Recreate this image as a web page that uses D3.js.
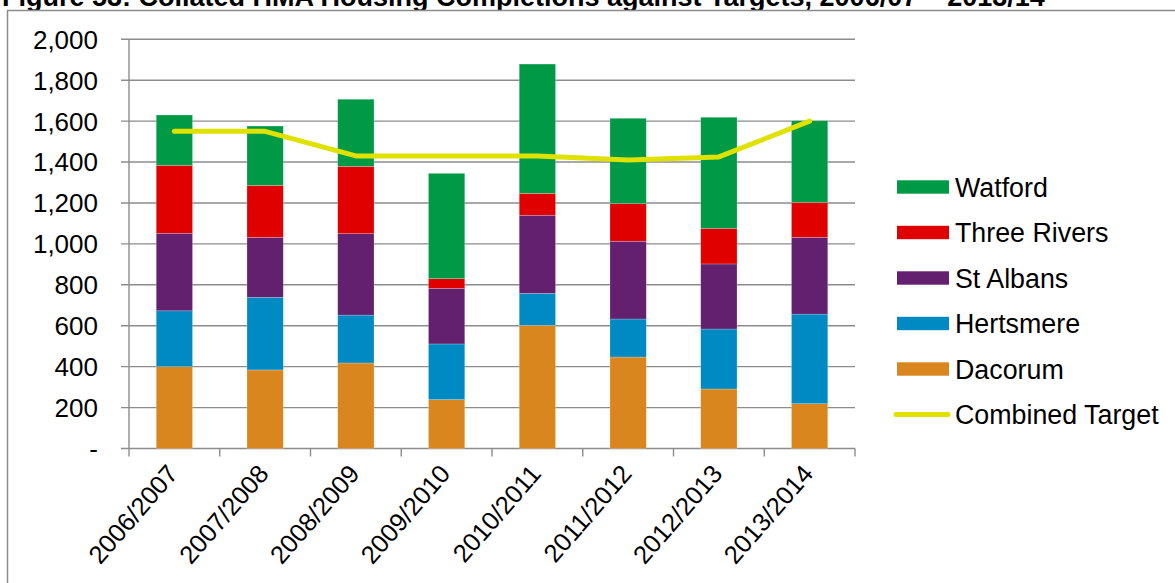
<!DOCTYPE html>
<html>
<head>
<meta charset="utf-8">
<script src="https://cdn.jsdelivr.net/npm/d3@7"></script>
<style>
  html, body { margin: 0; padding: 0; background: #fff; }
  svg { display: block; }
  text { font-family: "Liberation Sans", Arial, sans-serif; }
</style>
</head>
<body>
<svg id="chart" width="1175" height="583"></svg>
<script>
const categories = ["2006/2007","2007/2008","2008/2009","2009/2010","2010/2011","2011/2012","2012/2013","2013/2014"];
const dacorum     = [400, 384, 418, 239, 602, 447, 291, 219];
const hertsmere   = [273, 355, 234, 272, 156, 186, 293, 438];
const stAlbans    = [379, 293, 398, 272, 382, 380, 318, 375];
const threeRivers = [332, 254, 329,  47, 107, 184, 174, 171];
const watford     = [246, 290, 328, 515, 632, 417, 543, 399];
const combinedTarget = [1550, 1550, 1430, 1430, 1430, 1410, 1425, 1600];
const yTicks = [0, 200, 400, 600, 800, 1000, 1200, 1400, 1600, 1800, 2000];
const seriesNames = ["Dacorum", "Hertsmere", "St Albans", "Three Rivers", "Watford"];
const seriesColors = ["#d9861e", "#008ac4", "#62206e", "#e10000", "#009a46"];
const targetName = "Combined Target";
const targetColor = "#dfe100";
const titleText = "Figure 53: Collated HMA Housing Completions against Targets, 2006/07 \u2013 2013/14";

const seriesValues = [dacorum, hertsmere, stAlbans, threeRivers, watford];
const rows = categories.map((c, i) => {
  const r = { category: c };
  seriesNames.forEach((n, k) => r[n] = seriesValues[k][i]);
  return r;
});

const svg = d3.select("#chart");
const gridColor = "#8c8c8c";

// title (partly hidden behind the chart frame, as in the source)
svg.append("text")
  .attr("x", 2).attr("y", 6)
  .attr("font-size", 27).attr("font-weight", "bold")
  .text(titleText);

// chart frame
svg.append("rect")
  .attr("x", 7.5).attr("y", 10.5)
  .attr("width", 1200).attr("height", 600)
  .attr("fill", "#fff").attr("stroke", gridColor).attr("stroke-width", 1.5);

const plotLeft = 129, plotRight = 855, plotTop = 39.3, plotBottom = 448.5;

const x = d3.scaleBand().domain(categories).range([plotLeft, plotRight])
  .paddingInner(0.6).paddingOuter(0.3);
const xBoundary = d3.scaleBand().domain(categories).range([plotLeft, plotRight]).padding(0);
const y = d3.scaleLinear().domain([0, 2000]).range([plotBottom, plotTop]);

// gridlines
svg.append("g").selectAll("line").data(yTicks).join("line")
  .attr("x1", plotLeft - 8).attr("x2", plotRight)
  .attr("y1", d => y(d)).attr("y2", d => y(d))
  .attr("stroke", gridColor).attr("stroke-width", 1.4);

// y tick labels
svg.append("g").selectAll("text").data(yTicks).join("text")
  .attr("x", 98).attr("y", d => y(d))
  .attr("dy", "0.36em")
  .attr("text-anchor", "end")
  .attr("font-size", 26)
  .text(d => d === 0 ? "-" : d3.format(",")(d));

// y axis line
svg.append("line")
  .attr("x1", plotLeft).attr("x2", plotLeft)
  .attr("y1", plotTop).attr("y2", plotBottom + 8)
  .attr("stroke", gridColor).attr("stroke-width", 1.4);

// x category tick marks
const boundaries = categories.map(c => xBoundary(c) + xBoundary.bandwidth());
svg.append("g").selectAll("line").data(boundaries).join("line")
  .attr("x1", d => d).attr("x2", d => d)
  .attr("y1", plotBottom).attr("y2", plotBottom + 8)
  .attr("stroke", gridColor).attr("stroke-width", 1.4);

// stacked bars
const stack = d3.stack().keys(seriesNames)(rows);
svg.append("g").selectAll("g").data(stack).join("g")
  .attr("fill", (d, i) => seriesColors[i])
  .selectAll("rect").data(d => d).join("rect")
  .attr("x", d => x(d.data.category))
  .attr("width", x.bandwidth())
  .attr("y", d => y(d[1]))
  .attr("height", d => y(d[0]) - y(d[1]))
  .attr("stroke", "rgba(255,255,255,0.35)").attr("stroke-width", 0.6);

// target line
const line = d3.line()
  .x((d, i) => x(categories[i]) + x.bandwidth() / 2)
  .y(d => y(d));
svg.append("path").datum(combinedTarget)
  .attr("d", line)
  .attr("fill", "none").attr("stroke", targetColor)
  .attr("stroke-width", 5).attr("stroke-linecap", "round").attr("stroke-linejoin", "round");

// x labels
svg.append("g").selectAll("text").data(categories).join("text")
  .attr("text-anchor", "end")
  .attr("font-size", 25.5)
  .attr("transform", c => `translate(${x(c) + x.bandwidth() / 2 + 5},${plotBottom + 26}) rotate(-49)`)
  .text(c => c);

// legend
const legendItems = seriesNames.map((n, i) => ({ name: n, color: seriesColors[i], type: "bar" })).reverse();
legendItems.push({ name: targetName, color: targetColor, type: "line" });
const lg = svg.append("g").selectAll("g").data(legendItems).join("g")
  .attr("transform", (d, i) => `translate(0,${187 + i * 45.5})`);
lg.filter(d => d.type === "bar").append("rect")
  .attr("x", 897).attr("y", -6.7).attr("width", 52).attr("height", 13.4)
  .attr("fill", d => d.color);
lg.filter(d => d.type === "line").append("line")
  .attr("x1", 896).attr("x2", 948).attr("y1", 0).attr("y2", 0)
  .attr("stroke", d => d.color).attr("stroke-width", 5).attr("stroke-linecap", "round");
lg.append("text")
  .attr("x", 955).attr("y", 0).attr("dy", "0.36em")
  .attr("font-size", 26.8)
  .text(d => d.name);
</script>
</body>
</html>
